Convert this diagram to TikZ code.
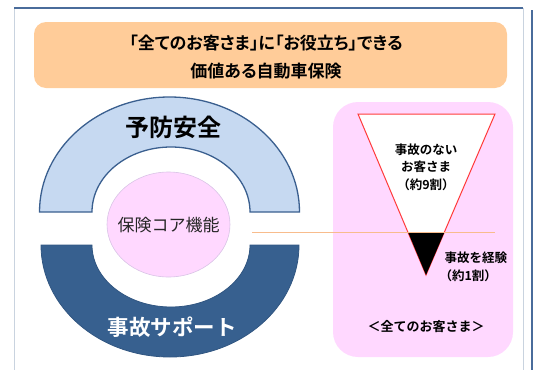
\documentclass[tikz,border=0pt]{standalone}
\usepackage{fontspec}
\newfontfamily\jp{Noto Sans CJK JP}
\newfontfamily\jpb{Noto Sans CJK JP Bold}
\newfontfamily\jpbp[RawFeature=+palt]{Noto Sans CJK JP Bold}
\definecolor{frameblue}{HTML}{4A6C9B}
\definecolor{framegray}{HTML}{C9D3DF}
\definecolor{titleorange}{HTML}{FFCC99}
\definecolor{ringlight}{HTML}{C6D9F1}
\definecolor{ringborder}{HTML}{3A5F8F}
\definecolor{ringdark}{HTML}{37608F}
\definecolor{pinkfill}{HTML}{FFD8FF}
\definecolor{pinkedge}{HTML}{D9C3E6}
\definecolor{lineorange}{HTML}{F8BC8C}
\definecolor{tri}{HTML}{FF3B3B}
\tikzset{
  titlebox/.style={fill=titleorange, rounded corners=12pt},
  bold15/.style={font=\jpbp\fontsize{17}{28}\selectfont, align=center, text=black},
  small/.style={font=\jpb\fontsize{12.5}{17}\selectfont, text=black},
}
\begin{document}
\begin{tikzpicture}[x=1pt,y=-1pt]
\useasboundingbox (0,0) rectangle (536,370);
% frame
\draw[framegray, line width=1pt] (14,8) -- (14,370);
\draw[framegray, line width=0.8pt] (523,8) -- (523,370);
\draw[frameblue, line width=1.2pt] (14,8) -- (523,8);
\draw[frameblue, line width=1.2pt] (532,10) -- (532,370);
% title
\fill[titlebox] (34,22) rectangle (507,88);
\node[bold15] (title) at (266,57) {「全てのお客さま」に「お役立ち」できる\\価値ある自動車保険};
% upper ring
\filldraw[fill=ringlight, draw=ringborder, line width=1.3pt]
  (39.5,212) arc[start angle=180, end angle=360, x radius=130, y radius=115]
  -- (250,212) arc[start angle=360, end angle=180, x radius=79, y radius=65] -- cycle;
\node[font=\jpb\fontsize{24}{24}\selectfont] (yobo) at (173,127) {予防安全};
% lower ring
\filldraw[fill=ringdark, draw=ringdark!90!black, line width=0.8pt]
  (41,245) arc[start angle=180, end angle=0, x radius=129, y radius=112]
  -- (250,245) arc[start angle=0, end angle=180, x radius=79, y radius=62] -- cycle;
\node[font=\jpb\fontsize{21.5}{22}\selectfont, text=white] (jiko) at (172,327) {事故サポート};
% core ellipse
\filldraw[fill=pinkfill, draw=pinkedge, line width=0.6pt] (168.5,224.5) ellipse[x radius=61.5, y radius=52.5];
\node[font=\jp\fontsize{17}{17}\selectfont, text=black!85] (core) at (168.5,225) {保険コア機能};
% right pink box
\fill[pinkfill, rounded corners=25pt] (333,102) rectangle (513,357);
% triangle
\filldraw[fill=white, draw=tri, line width=1pt] (358,114) -- (495,114) -- (426,275) -- cycle;
\fill[black] (408,232) -- (444.5,232) -- (426,275) -- cycle;
% orange line
\coordinate (ls) at (252,232);
\coordinate (le) at (495,232);
\draw[lineorange, line width=0.8pt] (ls) -- (le);
% triangle texts
\node[small] (t1) at (426,150) {事故のない};
\node[small] (t2) at (426,167) {お客さま};
\node[small] (t3) at (426,185) {（約9割）};
\node[small, anchor=west] (t4) at (441,258) {事故を経験};
\node[small, anchor=west] (t5) at (436,276) {（約1割）};
\node[font=\jpb\fontsize{13}{13}\selectfont] (all) at (426,327) {＜全てのお客さま＞};
\end{tikzpicture}
\end{document}
